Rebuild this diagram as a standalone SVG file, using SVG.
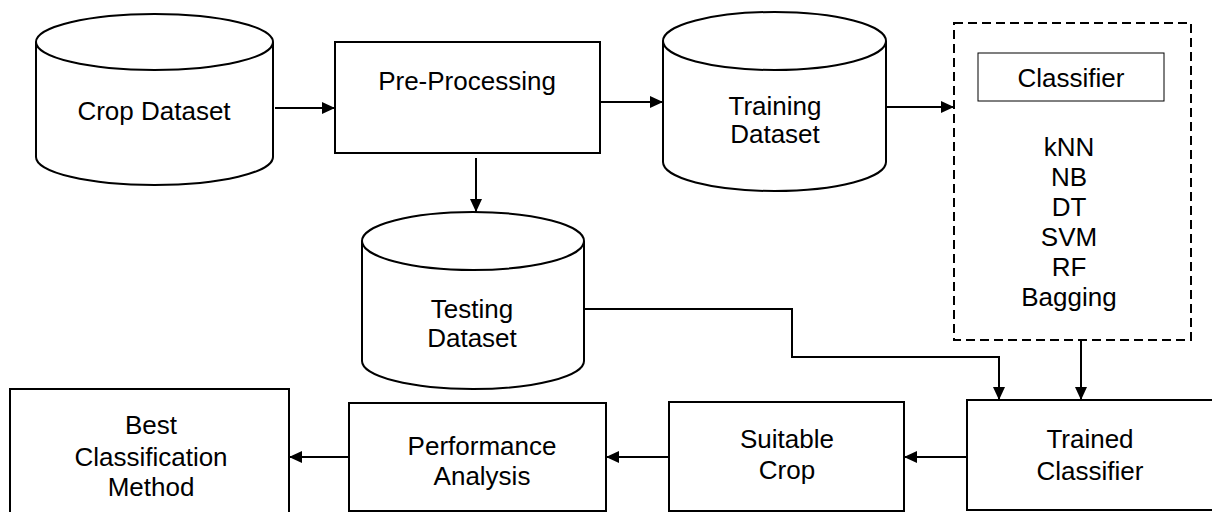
<svg xmlns="http://www.w3.org/2000/svg" width="1212" height="512" viewBox="0 0 1212 512">
<style>
.s{fill:#fff;stroke:#000;stroke-width:2}
.t{font-family:"Liberation Sans",Arial,sans-serif;font-size:26px;fill:#000;text-anchor:middle}
.c{fill:none;stroke:#000;stroke-width:2}
</style>
<defs>
<marker id="ah" markerUnits="userSpaceOnUse" markerWidth="14" markerHeight="12" refX="13" refY="6" orient="auto">
<path d="M0,0 L13,6 L0,12 Z" fill="#000"/>
</marker>
</defs>
<rect width="1212" height="512" fill="#fff"/>
<g id="crop-dataset">
<path class="s" d="M36,42 L36,157 A118.5,28 0 0 0 273,157 L273,42"/>
<ellipse class="s" cx="154.5" cy="42" rx="118.5" ry="28"/>
<text class="t" x="154" y="120">Crop Dataset</text>
</g>
<g id="pre-processing">
<rect class="s" x="335" y="42" width="265" height="111"/>
<text class="t" x="467" y="90">Pre-Processing</text>
</g>
<g id="training-dataset">
<path class="s" d="M663,41 L663,162 A111.5,29 0 0 0 886,162 L886,41"/>
<ellipse class="s" cx="774.5" cy="41" rx="111.5" ry="29"/>
<text class="t" x="775" y="115">Training</text>
<text class="t" x="775" y="143">Dataset</text>
</g>
<g id="testing-dataset">
<path class="s" d="M362,241 L362,361 A111,28 0 0 0 584,361 L584,241"/>
<ellipse class="s" cx="473" cy="241" rx="111" ry="29"/>
<text class="t" x="472" y="318">Testing</text>
<text class="t" x="472" y="347">Dataset</text>
</g>
<g id="classifier-group">
<rect x="954" y="23" width="237" height="317" fill="none" stroke="#000" stroke-width="2" stroke-dasharray="9 5"/>
<rect x="978" y="53" width="186" height="48" fill="#fff" stroke="#000" stroke-width="1"/>
<text class="t" x="1071" y="87">Classifier</text>
<text class="t" x="1069" y="156">kNN</text>
<text class="t" x="1069" y="186">NB</text>
<text class="t" x="1069" y="216">DT</text>
<text class="t" x="1069" y="246">SVM</text>
<text class="t" x="1069" y="276">RF</text>
<text class="t" x="1069" y="306">Bagging</text>
</g>
<g id="trained-classifier">
<rect class="s" x="967" y="400" width="246" height="110"/>
<text class="t" x="1090" y="448">Trained</text>
<text class="t" x="1090" y="480">Classifier</text>
</g>
<g id="suitable-crop">
<rect class="s" x="669" y="402" width="235" height="109"/>
<text class="t" x="787" y="448">Suitable</text>
<text class="t" x="787" y="479">Crop</text>
</g>
<g id="performance-analysis">
<rect class="s" x="349" y="403" width="257" height="108"/>
<text class="t" x="482" y="455">Performance</text>
<text class="t" x="482" y="485">Analysis</text>
</g>
<g id="best-method">
<rect class="s" x="10" y="389" width="279" height="130"/>
<text class="t" x="151" y="434">Best</text>
<text class="t" x="151" y="466">Classification</text>
<text class="t" x="151" y="496">Method</text>
</g>
<g id="connectors">
<path class="c" d="M275,108 H335" marker-end="url(#ah)"/>
<path class="c" d="M600,102 H663" marker-end="url(#ah)"/>
<path class="c" d="M476,158 V212" marker-end="url(#ah)"/>
<path class="c" d="M886,107 H954" marker-end="url(#ah)"/>
<path class="c" d="M584,309 H792 V357 H999 V400" marker-end="url(#ah)"/>
<path class="c" d="M1081,341 V400" marker-end="url(#ah)"/>
<path class="c" d="M967,457 H904" marker-end="url(#ah)"/>
<path class="c" d="M669,457 H606" marker-end="url(#ah)"/>
<path class="c" d="M349,457 H289" marker-end="url(#ah)"/>
</g>
</svg>
